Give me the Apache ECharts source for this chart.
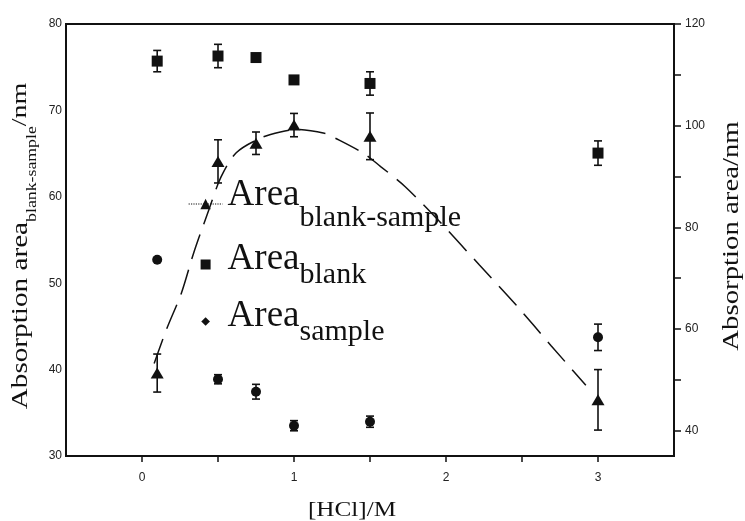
<!DOCTYPE html>
<html>
<head>
<meta charset="utf-8">
<script src="https://cdn.jsdelivr.net/npm/echarts@6/dist/echarts.min.js"></script>
<style>
  html, body { margin: 0; padding: 0; background: #fff; }
  #chart { width: 745px; height: 521px; }
</style>
</head>
<body>
<div id="chart"></div>
<script>
// [HCl] concentrations (M)
var hcl = [0.1, 0.5, 0.75, 1.0, 1.5, 3.0];
// Area blank-sample (left axis) and its error
var blankSample = [39.6, 64.1, 66.2, 68.3, 67.0, 36.5];
var blankSampleErr = [2.2, 2.5, 1.3, 1.35, 2.7, 3.5];
// Area blank (right axis)
var blank = [112.7, 113.7, 113.4, 109.0, 108.3, 94.6];
var blankErr = [2.1, 2.3, 0, 0, 2.3, 2.4];
// Area sample (right axis)
var sample = [73.6, 50.1, 47.65, 40.96, 41.75, 58.35];
var sampleErr = [0, 0.9, 1.45, 1.0, 1.1, 2.6];
// dashed fit curve
var fitX = [0.08, 0.16, 0.26, 0.34, 0.44, 0.52, 0.62, 0.78, 0.91, 1.02, 1.2, 1.27, 1.46, 1.57, 1.73, 1.97, 2.22, 2.46, 2.69, 2.92];
var fitY = [40.7, 44.6, 48.9, 53.5, 58.5, 62.3, 65.1, 66.8, 67.5, 67.8, 67.35, 66.8, 65.0, 63.5, 61.2, 56.9, 52.1, 47.5, 42.8, 38.2];
// ticks and labels
var xTicks = [0, 0.5, 1, 1.5, 2, 2.5, 3];
var xLabels = [0, 1, 2, 3];
var rightTicks = [40, 50, 60, 70, 80, 90, 100, 110, 120];
var rightLabels = [40, 60, 80, 100, 120];

var ink = '#111';
var serif = '"Liberation Serif", "Times New Roman", serif';
var sans = '"Liberation Sans", Arial, sans-serif';

function pairs(xs, ys) {
    return xs.map(function (x, i) { return [x, ys[i]]; });
}
function triples(xs, ys, es) {
    return xs.map(function (x, i) { return [x, ys[i], es[i]]; });
}

function errorBar(params, api) {
    var x = api.value(0), y = api.value(1), e = api.value(2);
    if (!e) {
        return null;
    }
    var hi = api.coord([x, y + e]);
    var lo = api.coord([x, y - e]);
    var w = 4;
    var st = {stroke: ink, lineWidth: 1.6};
    return {
        type: 'group',
        children: [
            {type: 'line', shape: {x1: hi[0], y1: hi[1], x2: lo[0], y2: lo[1]}, style: st},
            {type: 'line', shape: {x1: hi[0] - w, y1: hi[1], x2: hi[0] + w, y2: hi[1]}, style: st},
            {type: 'line', shape: {x1: lo[0] - w, y1: lo[1], x2: lo[0] + w, y2: lo[1]}, style: st}
        ]
    };
}

var e = echarts.init(document.getElementById('chart'));
e.setOption({
    animation: false,
    backgroundColor: '#fff',
    grid: {
        left: 66, right: 71, top: 24, bottom: 65,
        show: true, borderColor: ink, borderWidth: 2
    },
    legend: {
        orient: 'vertical',
        left: 188,
        top: 175,
        padding: 0,
        itemWidth: 34,
        itemHeight: 13,
        itemGap: 6,
        selectedMode: false,
        symbolKeepAspect: true,
        lineStyle: {opacity: 1, type: 'dotted', width: 1.2, color: ink},
        data: [
            {name: 'blank-sample'},
            {name: 'blank', icon: 'path://M-1.5,-1.5M0,0L10,0L10,10L0,10ZM11.5,11.5'},
            {name: 'sample', icon: 'path://M-2.5,-2.5M5,0L10,5L5,10L0,5ZM12.5,12.5'}
        ],
        formatter: function (name) {
            return '{a|Area}{' + (name === 'blank-sample' ? 's1' : 's2') + '|' + name + '}';
        },
        textStyle: {
            color: ink,
            fontFamily: serif,
            rich: {
                a: {fontFamily: serif, fontSize: 37, lineHeight: 42, verticalAlign: 'top', padding: [2, 0, 0, 0], color: ink},
                s1: {fontFamily: serif, fontSize: 30, verticalAlign: 'top', padding: [28, 0, 0, 0], color: ink},
                s2: {fontFamily: serif, fontSize: 30, verticalAlign: 'top', padding: [21, 0, 0, 0], color: ink}
            }
        }
    },
    xAxis: {
        type: 'value',
        min: -0.5,
        max: 3.5,
        splitLine: {show: false},
        axisLine: {onZero: false, lineStyle: {color: ink, width: 2}},
        axisTick: {customValues: xTicks, length: 6, lineStyle: {color: ink, width: 1.5}},
        axisLabel: {customValues: xLabels, margin: 16, color: '#222', fontFamily: sans, fontSize: 12}
    },
    yAxis: [
        {
            type: 'value',
            min: 30,
            max: 80,
            interval: 10,
            splitLine: {show: false},
            axisLine: {show: true, onZero: false, lineStyle: {color: ink, width: 2}},
            axisTick: {show: false},
            axisLabel: {margin: 4, color: '#222', fontFamily: sans, fontSize: 12}
        },
        {
            type: 'value',
            position: 'right',
            min: 35,
            max: 120,
            splitLine: {show: false},
            axisLine: {show: true, onZero: false, lineStyle: {color: ink, width: 2}},
            axisTick: {customValues: rightTicks, length: 7, lineStyle: {color: ink, width: 1.5}},
            axisLabel: {customValues: rightLabels, margin: 11, color: '#222', fontFamily: sans, fontSize: 12}
        }
    ],
    graphic: [
        {
            type: 'text', x: 24, y: 246, rotation: Math.PI / 2, scaleX: 1.27,
            style: {
                text: '{m|Absorption area}{s|blank-sample}{n|/nm}',
                align: 'center', verticalAlign: 'middle',
                rich: {
                    m: {fontFamily: serif, fontSize: 23, verticalAlign: 'top', fill: ink},
                    s: {fontFamily: serif, fontSize: 14, verticalAlign: 'top', padding: [16, 0, 0, 0], fill: ink},
                    n: {fontFamily: serif, fontSize: 22, verticalAlign: 'top', fill: ink}
                }
            }
        },
        {
            type: 'text', x: 732, y: 236, rotation: Math.PI / 2, scaleX: 1.2,
            style: {text: 'Absorption area/nm', font: '24px ' + serif, fill: ink, align: 'center', verticalAlign: 'middle'}
        },
        {
            type: 'text', x: 352, y: 510, scaleX: 1.2,
            style: {text: '[HCl]/M', font: '21px ' + serif, fill: ink, align: 'center', verticalAlign: 'middle'}
        }
    ],
    series: [
        {
            name: 'fit',
            type: 'line',
            data: pairs(fitX, fitY),
            smooth: 0.3,
            showSymbol: false,
            lineStyle: {color: ink, width: 1.5, type: [26, 11]},
            z: 1
        },
        {
            name: 'blank-sample',
            type: 'line',
            data: pairs(hcl, blankSample),
            symbol: 'triangle',
            symbolSize: [13, 11],
            showSymbol: true,
            itemStyle: {color: ink},
            lineStyle: {color: ink, opacity: 0},
            z: 3
        },
        {
            name: 'blank',
            type: 'scatter',
            yAxisIndex: 1,
            data: pairs(hcl, blank),
            symbol: 'rect',
            symbolSize: 11,
            itemStyle: {color: ink, opacity: 1},
            z: 3
        },
        {
            name: 'sample',
            type: 'scatter',
            yAxisIndex: 1,
            data: pairs(hcl, sample),
            symbol: 'circle',
            symbolSize: 10,
            itemStyle: {color: ink, opacity: 1},
            z: 3
        },
        {
            type: 'custom', renderItem: errorBar, data: triples(hcl, blankSample, blankSampleErr), z: 2
        },
        {
            type: 'custom', yAxisIndex: 1, renderItem: errorBar, data: triples(hcl, blank, blankErr), z: 2
        },
        {
            type: 'custom', yAxisIndex: 1, renderItem: errorBar, data: triples(hcl, sample, sampleErr), z: 2
        }
    ]
});
window.onresize = function () {
    e.resize();
};
</script>
</body>
</html>
